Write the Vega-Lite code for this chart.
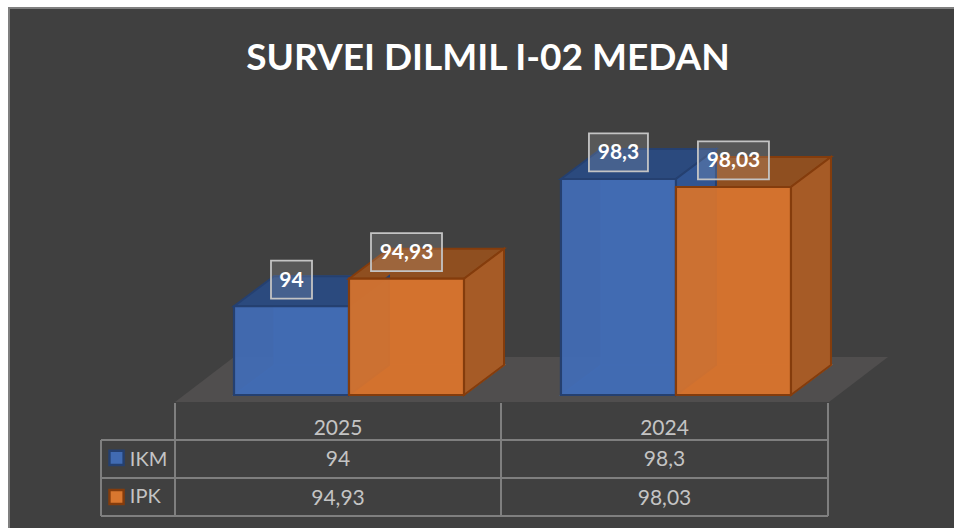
{"$schema":"https://vega.github.io/schema/vega-lite/v6.json","width":946,"height":521,"autosize":"none","padding":{"left":9,"top":8,"right":0,"bottom":0},"background":"#ffffff","view":{"fill":"#404040","stroke":"#7f7f7f","strokeWidth":2},"config":{"font":"Lato"},"title":{"text":"SURVEI DILMIL I-02 MEDAN","font":"Lato","fontSize":37,"fontWeight":"bold","color":"#ffffff","anchor":"middle","baseline":"alphabetic","offset":-99,"dx":6},"data":{"values":[{"year":"2025","series":"IKM","value":94},{"year":"2025","series":"IPK","value":94.93},{"year":"2024","series":"IKM","value":98.3},{"year":"2024","series":"IPK","value":98.03}]},"transform":[{"calculate":"(datum.year=='2025'?0:2.843)+(datum.series=='IPK'?1:0)","as":"left"},{"calculate":"replace(toString(datum.value),'.',',')","as":"label"},{"calculate":"(length(datum.label)*12+17-(indexof(datum.label,',')>=0?6:0))/230","as":"half"}],"resolve":{"scale":{"x":"independent","y":"independent","fill":"independent","stroke":"independent"}},"layer":[{"data":{"values":[{"d":0},{"d":1}]},"transform":[{"calculate":"-0.513+datum.d*0.513","as":"a"},{"calculate":"5.174+datum.d*0.513","as":"b"},{"calculate":"90.763+datum.d*1.521","as":"h"}],"mark":{"type":"area","orient":"horizontal","fill":"#504e4e"},"encoding":{"x":{"field":"a","type":"quantitative","axis":null,"scale":{"domain":[0,1],"range":[225,340],"zero":false,"nice":false}},"x2":{"field":"b"},"y":{"field":"h","type":"quantitative","axis":null,"scale":{"domain":[91,98.3],"range":[387,171],"zero":false,"nice":false}}}},{"transform":[{"calculate":"datum.left+0.348","as":"a"},{"calculate":"datum.left+1.348","as":"b"},{"calculate":"91+1.014","as":"y0"},{"calculate":"datum.value+1.014","as":"y1"}],"mark":{"type":"rect","strokeWidth":1.2},"encoding":{"x":{"field":"a","type":"quantitative","axis":null,"scale":{"domain":[0,1],"range":[225,340],"zero":false,"nice":false}},"x2":{"field":"b"},"y":{"field":"y0","type":"quantitative","axis":null,"scale":{"domain":[91,98.3],"range":[387,171],"zero":false,"nice":false}},"y2":{"field":"y1"},"fill":{"field":"series","type":"nominal","legend":null,"scale":{"domain":["IKM","IPK"],"range":["#3f68ae","#d2712e"]}},"stroke":{"field":"series","type":"nominal","legend":null,"scale":{"domain":["IKM","IPK"],"range":["#4a78c4","#f08030"]}}}},{"transform":[{"calculate":"[0,1]","as":"d"},{"flatten":["d"]},{"calculate":"datum.left+datum.d*0.348","as":"a"},{"calculate":"datum.left+1+datum.d*0.348","as":"b"},{"calculate":"91+datum.d*1.014","as":"h"}],"mark":{"type":"area","orient":"horizontal","strokeWidth":1.2},"encoding":{"x":{"field":"a","type":"quantitative","axis":null,"scale":{"domain":[0,1],"range":[225,340],"zero":false,"nice":false}},"x2":{"field":"b"},"y":{"field":"h","type":"quantitative","axis":null,"scale":{"domain":[91,98.3],"range":[387,171],"zero":false,"nice":false}},"detail":{"field":"left"},"fill":{"field":"series","type":"nominal","legend":null,"scale":{"domain":["IKM","IPK"],"range":["#3f68ae","#d97529"]}},"stroke":{"field":"series","type":"nominal","legend":null,"scale":{"domain":["IKM","IPK"],"range":["#4a78c4","#f08030"]}}}},{"transform":[{"calculate":"[0,1]","as":"d"},{"flatten":["d"]},{"calculate":"datum.left+datum.d*0.348","as":"a"},{"calculate":"datum.left+1+datum.d*0.348","as":"b"},{"calculate":"datum.value+datum.d*1.014","as":"h"}],"mark":{"type":"area","orient":"horizontal","strokeWidth":2},"encoding":{"x":{"field":"a","type":"quantitative","axis":null,"scale":{"domain":[0,1],"range":[225,340],"zero":false,"nice":false}},"x2":{"field":"b"},"y":{"field":"h","type":"quantitative","axis":null,"scale":{"domain":[91,98.3],"range":[387,171],"zero":false,"nice":false}},"detail":{"field":"left"},"fill":{"field":"series","type":"nominal","legend":null,"scale":{"domain":["IKM","IPK"],"range":["#2b4a7e","#8f4f20"]}},"stroke":{"field":"series","type":"nominal","legend":null,"scale":{"domain":["IKM","IPK"],"range":["#254070","#843c0c"]}}}},{"transform":[{"calculate":"[0,1]","as":"d"},{"flatten":["d"]},{"calculate":"datum.left+1+datum.d*0.348","as":"a"},{"calculate":"91+datum.d*1.014","as":"y0"},{"calculate":"datum.value+datum.d*1.014","as":"y1"}],"mark":{"type":"area","strokeWidth":2},"encoding":{"x":{"field":"a","type":"quantitative","axis":null,"scale":{"domain":[0,1],"range":[225,340],"zero":false,"nice":false}},"y":{"field":"y0","type":"quantitative","axis":null,"scale":{"domain":[91,98.3],"range":[387,171],"zero":false,"nice":false}},"y2":{"field":"y1"},"detail":{"field":"left"},"fill":{"field":"series","type":"nominal","legend":null,"scale":{"domain":["IKM","IPK"],"range":["#315592","#a65b26"]}},"stroke":{"field":"series","type":"nominal","legend":null,"scale":{"domain":["IKM","IPK"],"range":["#254070","#843c0c"]}}}},{"transform":[{"calculate":"datum.left+1","as":"b"},{"calculate":"91","as":"y0"}],"mark":{"type":"rect","strokeWidth":2.2,"fillOpacity":0.965},"encoding":{"x":{"field":"left","type":"quantitative","axis":null,"scale":{"domain":[0,1],"range":[225,340],"zero":false,"nice":false}},"x2":{"field":"b"},"y":{"field":"y0","type":"quantitative","axis":null,"scale":{"domain":[91,98.3],"range":[387,171],"zero":false,"nice":false}},"y2":{"field":"value"},"fill":{"field":"series","type":"nominal","legend":null,"scale":{"domain":["IKM","IPK"],"range":["#416bb2","#d2722f"]}},"stroke":{"field":"series","type":"nominal","legend":null,"scale":{"domain":["IKM","IPK"],"range":["#254070","#843c0c"]}}}},{"transform":[{"calculate":"datum.left+0.5-datum.half","as":"a"},{"calculate":"datum.left+0.5+datum.half","as":"b"},{"calculate":"datum.value+0.9-0.642","as":"y0"},{"calculate":"datum.value+0.9+0.642","as":"y1"}],"mark":{"type":"rect","fill":"#ffffff","fillOpacity":0.13,"stroke":"#c4c4c4","strokeWidth":1.8},"encoding":{"x":{"field":"a","type":"quantitative","axis":null,"scale":{"domain":[0,1],"range":[225,340],"zero":false,"nice":false}},"x2":{"field":"b"},"y":{"field":"y0","type":"quantitative","axis":null,"scale":{"domain":[91,98.3],"range":[387,171],"zero":false,"nice":false}},"y2":{"field":"y1"}}},{"transform":[{"calculate":"datum.left+0.5","as":"a"},{"calculate":"datum.value+0.9","as":"h"}],"mark":{"type":"text","font":"Lato","fontSize":21,"fontWeight":"bold","fill":"#ffffff","baseline":"middle","align":"center","dy":1},"encoding":{"x":{"field":"a","type":"quantitative","axis":null,"scale":{"domain":[0,1],"range":[225,340],"zero":false,"nice":false}},"y":{"field":"h","type":"quantitative","axis":null,"scale":{"domain":[91,98.3],"range":[387,171],"zero":false,"nice":false}},"text":{"field":"label"}}},{"data":{"values":[{"c":0,"r":1,"c2":3,"r2":1},{"c":0,"r":2,"c2":3,"r2":2},{"c":0,"r":3,"c2":3,"r2":3},{"c":0,"r":1,"c2":0,"r2":3},{"c":1,"r":0,"c2":1,"r2":3},{"c":2,"r":0,"c2":2,"r2":3},{"c":3,"r":0,"c2":3,"r2":3}]},"mark":{"type":"rule","stroke":"#7f7f7f","strokeWidth":2},"encoding":{"x":{"field":"c","type":"quantitative","axis":null,"scale":{"domain":[0,1,2,3],"range":[92,166,492,819],"zero":false,"nice":false}},"x2":{"field":"c2"},"y":{"field":"r","type":"quantitative","axis":null,"scale":{"domain":[0,1,2,3],"range":[395,432,470,508],"zero":false,"nice":false}},"y2":{"field":"r2"}}},{"transform":[{"filter":"datum.series=='IKM'"},{"calculate":"datum.year=='2025'?1.5:2.5","as":"c"},{"calculate":"0.7","as":"r"}],"mark":{"type":"text","font":"Lato","fontSize":21,"fill":"#c4c4c4","baseline":"middle","align":"center"},"encoding":{"x":{"field":"c","type":"quantitative","axis":null,"scale":{"domain":[0,1,2,3],"range":[92,166,492,819],"zero":false,"nice":false}},"y":{"field":"r","type":"quantitative","axis":null,"scale":{"domain":[0,1,2,3],"range":[395,432,470,508],"zero":false,"nice":false}},"text":{"field":"year"}}},{"transform":[{"calculate":"datum.year=='2025'?1.5:2.5","as":"c"},{"calculate":"datum.series=='IKM'?1.52:2.55","as":"r"}],"mark":{"type":"text","font":"Lato","fontSize":21,"fill":"#c4c4c4","baseline":"middle","align":"center"},"encoding":{"x":{"field":"c","type":"quantitative","axis":null,"scale":{"domain":[0,1,2,3],"range":[92,166,492,819],"zero":false,"nice":false}},"y":{"field":"r","type":"quantitative","axis":null,"scale":{"domain":[0,1,2,3],"range":[395,432,470,508],"zero":false,"nice":false}},"text":{"field":"label"}}},{"transform":[{"filter":"datum.year=='2025'"},{"calculate":"0.39","as":"c"},{"calculate":"datum.series=='IKM'?1.52:2.5","as":"r"}],"mark":{"type":"text","font":"Lato","fontSize":20,"fill":"#c4c4c4","baseline":"middle","align":"left"},"encoding":{"x":{"field":"c","type":"quantitative","axis":null,"scale":{"domain":[0,1,2,3],"range":[92,166,492,819],"zero":false,"nice":false}},"y":{"field":"r","type":"quantitative","axis":null,"scale":{"domain":[0,1,2,3],"range":[395,432,470,508],"zero":false,"nice":false}},"text":{"field":"series"}}},{"transform":[{"filter":"datum.year=='2025'"},{"calculate":"0.21","as":"c"},{"calculate":"datum.series=='IKM'?1.47:2.5","as":"r"}],"mark":{"type":"point","shape":"square","filled":true,"size":200,"strokeWidth":2.4,"opacity":1},"encoding":{"x":{"field":"c","type":"quantitative","axis":null,"scale":{"domain":[0,1,2,3],"range":[92,166,492,819],"zero":false,"nice":false}},"y":{"field":"r","type":"quantitative","axis":null,"scale":{"domain":[0,1,2,3],"range":[395,432,470,508],"zero":false,"nice":false}},"fill":{"field":"series","type":"nominal","legend":null,"scale":{"domain":["IKM","IPK"],"range":["#416bb2","#d9772f"]}},"stroke":{"field":"series","type":"nominal","legend":null,"scale":{"domain":["IKM","IPK"],"range":["#254070","#843c0c"]}}}}]}
